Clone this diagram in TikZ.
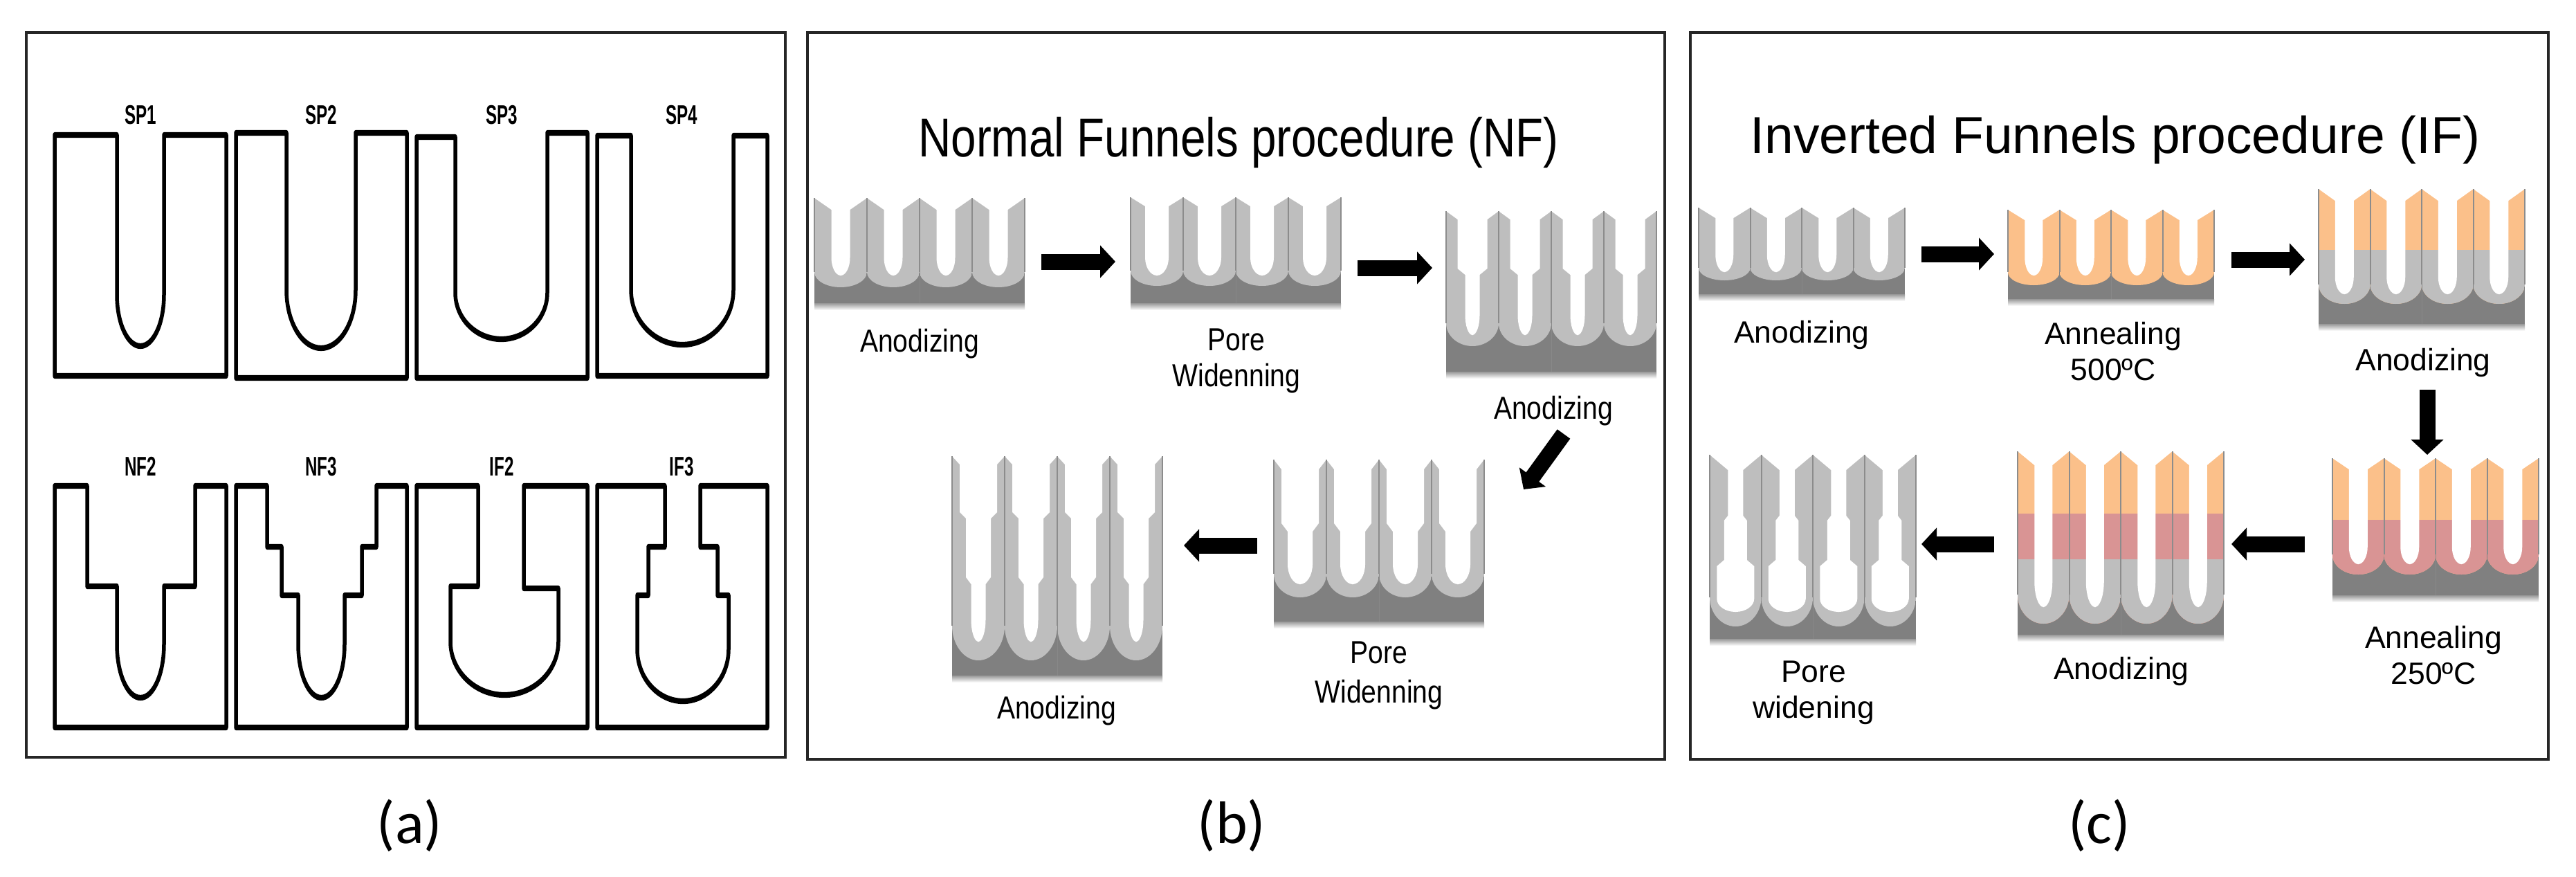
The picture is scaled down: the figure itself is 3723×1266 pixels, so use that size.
\documentclass[tikz,border=0pt]{standalone}
\usepackage{fontspec}
\setmainfont{Liberation Sans}
\newfontfamily\celltagfont[FakeStretch=.62]{Liberation Sans}
\newfontfamily\nftitlefont[FakeStretch=.83]{Liberation Sans}
\newfontfamily\nfstepfont[FakeStretch=.85]{Liberation Sans}
\newfontfamily\captionfont{Carlito}
\usetikzlibrary{%
        arrows.meta%
    }
\definecolor{wallgray}{HTML}{BEBEBE}
\definecolor{barriergray}{HTML}{808080}
\definecolor{seamgray}{HTML}{8C8C8C}
\definecolor{annealorange}{HTML}{FBC08A}
\definecolor{annealpink}{HTML}{D99494}
\tikzset{%
    panelbox/.style={draw=black!85,line width=4pt},
    cutline/.style={draw=black,line width=5.5pt,line join=round},
    blockarrow/.style={black,line width=23pt,-{Triangle[length=22pt,width=46pt]}},
    celltag/.style={font=\celltagfont\bfseries\fontsize{39pt}{39pt}\selectfont,anchor=base,inner sep=0pt},
    nftitle/.style={font=\nftitlefont\fontsize{79pt}{79pt}\selectfont,anchor=base,inner sep=0pt},
    iftitle/.style={font=\fontsize{75pt}{75pt}\selectfont,anchor=base,inner sep=0pt},
    nfstep/.style={font=\nfstepfont\fontsize{46pt}{52pt}\selectfont,align=center,inner sep=0pt},
    ifstep/.style={font=\fontsize{44.5pt}{52pt}\selectfont,align=center,inner sep=0pt},
    panelcap/.style={font=\captionfont\fontsize{87pt}{87pt}\selectfont,anchor=base,inner sep=0pt}
}
% pore bottom of a section: from x #1 to x #2, curve starts at y #4, tip at y #3
\newcommand{\poretip}[4]{%
  .. controls (#1,{#4+.55*(#3-#4)}) and ({(#1+#2)/2+.55*(#1-#2)/2},#3) .. ({(#1+#2)/2},#3)
  .. controls ({(#1+#2)/2-.55*(#1-#2)/2},#3) and (#2,{#4+.55*(#3-#4)}) .. (#2,#4)}
% alumina layer: x, tip y, wall bottom y, base y, bands colour/y, pore half width/y, pore bottom y
\newcommand{\alwell}[7]{%
  \pgfmathsetmacro{\cusp}{#3-.17*(#3-#2)}
  \fill[barriergray] (#1,\cusp) rectangle (#1+4*\cellw,#4);
  \shade[top color=black!40,bottom color=white] (#1,#4) rectangle (#1+4*\cellw,#4+10);
  \foreach \h/\y in {#6}{\xdef\lasth{\h}\xdef\lasty{\y}}
  \foreach \i in {0,...,3}{
    \pgfmathsetmacro{\xa}{#1+\i*\cellw}
    \pgfmathsetmacro{\xc}{\xa+\cellw/2}
    \pgfmathsetmacro{\xb}{\xa+\cellw}
    \begin{scope}
      \clip (\xa,#2) -- (\xa,\cusp) .. controls (\xa,{\cusp+.55*(#3-\cusp)}) and ({\xc-.55*\cellw/2},#3) .. (\xc,#3)
        .. controls ({\xc+.55*\cellw/2},#3) and (\xb,{\cusp+.55*(#3-\cusp)}) .. (\xb,\cusp) -- (\xb,#2) -- cycle;
      \foreach \col/\ys in {#5}
        \fill[\col] (\xa,\ys) rectangle (\xb,#3+1);
    \end{scope}
    \foreach \s in {-1,1}
      \fill[white] (\xc-\s,#2) -- ({\xc+\s*\cellw/2},#2)
        foreach \h/\y in {#6}{ -- ({\xc+\s*\h},\y)}
        .. controls ({\xc+\s*\lasth},{\lasty+.55*(#7-\lasty)}) and ({\xc+\s*\lasth*.55},#7) .. (\xc,#7)
        -- (\xc-\s,#7) -- cycle;
  }
  \foreach \i in {0,...,4}
    \draw[seamgray,line width=2pt] (#1+\i*\cellw,#2) -- (#1+\i*\cellw,\cusp);
  \draw[seamgray!70!barriergray,line width=1pt] (#1+2*\cellw,\cusp) -- (#1+2*\cellw,#4);
}

\begin{document}
\begin{tikzpicture}[x=1pt,y=-1pt]
  \fill[white,use as bounding box] (0,0) rectangle (3723,1266);

  \draw[panelbox] (38,47) rectangle (1135,1094);% panel a
  \draw[panelbox] (1167,47) rectangle (2406,1097);% panel b
  \draw[panelbox] (2443,47) rectangle (3683,1097);% panel c

  %sections
  \begin{scope}[transform canvas={yscale=1.5},y=-0.66667pt]
    \draw[cutline] (169,195) -- (79,195) -- (79,543) -- (327,543) -- (327,195) -- (237,195)
      -- (237,426) \poretip{237}{169}{500}{426} -- cycle;% SP1
    \draw[cutline] (414,192) -- (341,192) -- (341,546) -- (588,546) -- (588,192) -- (514,192)
      -- (514,419) \poretip{514}{414}{503}{419} -- cycle;% SP2
    \draw[cutline] (658,198) -- (602,198) -- (602,546) -- (849,546) -- (849,192) -- (791,192)
      -- (791,423) \poretip{791}{658}{490}{423} -- cycle;% SP3
    \draw[cutline] (912,196) -- (863,196) -- (863,543) -- (1109,543) -- (1109,196) -- (1060,196)
      -- (1060,419) \poretip{1060}{912}{498}{419} -- cycle;% SP4
    \draw[cutline] (126,702) -- (79,702) -- (79,1051) -- (327,1051) -- (327,702) -- (282,702)
      -- (282,847) -- (237,847) -- (237,931) \poretip{237}{169}{1008}{931}
      -- (169,847) -- (126,847) -- cycle;% NF2
    \draw[cutline] (386,702) -- (341,702) -- (341,1051) -- (588,1051) -- (588,702) -- (544,702)
      -- (544,790) -- (523,790) -- (523,860) -- (498,860) -- (498,931) \poretip{498}{431}{1008}{931}
      -- (431,860) -- (407,860) -- (407,790) -- (386,790) -- cycle;% NF3
    \draw[cutline] (691,702) -- (602,702) -- (602,1051) -- (849,1051) -- (849,702) -- (757,702)
      -- (757,850) -- (807,850) -- (807,927) \poretip{807}{651}{1004}{927}
      -- (651,847) -- (691,847) -- cycle;% IF2
    \draw[cutline] (961,702) -- (863,702) -- (863,1051) -- (1109,1051) -- (1109,702) -- (1012,702)
      -- (1012,790) -- (1037,790) -- (1037,860) -- (1053,860) -- (1053,938) \poretip{1053}{921}{1013}{938}
      -- (921,860) -- (937,860) -- (937,790) -- (961,790) -- cycle;% IF3
  \end{scope}

  %section labels
  \node[celltag] (sp1) at (203,179) {SP1};
  \node[celltag] (sp2) at (464,179) {SP2};
  \node[celltag] (sp3) at (725,179) {SP3};
  \node[celltag] (sp4) at (985,179) {SP4};
  \node[celltag] (nf2) at (203,687) {NF2};
  \node[celltag] (nf3) at (464,687) {NF3};
  \node[celltag] (if2) at (725,687) {IF2};
  \node[celltag] (if3) at (985,687) {IF3};

  %normal funnels
  \node[nftitle] (nftitle) at (1790,226) {Normal Funnels procedure (NF)};
  \def\cellw{76}
  \alwell{1177}{286}{415}{438}{wallgray/286}{13.5/303,13.5/372}{398}
  \alwell{1634}{285}{413}{438}{wallgray/285}{17/298,17/372}{398}
  \alwell{2090}{305}{500}{537}{wallgray/305}{21.5/317,21.5/388,10.5/397,10.5/455}{484}
  \alwell{1841}{664}{863}{898}{wallgray/664}{27/678,27/756,18/768,18/815}{844}
  \alwell{1376}{659}{954}{976}{wallgray/659}{27/671,27/740,18/749,18/834,10.5/844,10.5/895}{927}

  \coordinate (nfa) at (1505,378);
  \coordinate (nfb) at (1612,378);
  \coordinate (nfc) at (1962,387);
  \coordinate (nfd) at (2070,387);
  \coordinate (nfe) at (2260,627);
  \coordinate (nff) at (2202,707);
  \coordinate (nfg) at (1817,788);
  \coordinate (nfh) at (1711,788);
  \draw[blockarrow] (nfa) -- (nfb);
  \draw[blockarrow] (nfc) -- (nfd);
  \draw[blockarrow] (nfe) -- (nff);
  \draw[blockarrow] (nfg) -- (nfh);

  \node[nfstep,anchor=base] (nfan1) at (1329,508) {Anodizing};
  \node[nfstep,anchor=north] (nfpw1) at (1787,475) {Pore\\Widenning};
  \node[nfstep,anchor=base] (nfan2) at (2245,605) {Anodizing};
  \node[nfstep,anchor=north] (nfpw2) at (1993,927) {Pore\\[5pt]Widenning};
  \node[nfstep,anchor=base] (nfan3) at (1527,1038) {Anodizing};

  %inverted funnels
  \node[iftitle] (iftitle) at (3057,221) {Inverted Funnels procedure (IF)};
  \def\cellw{74.5}
  \alwell{2455}{300}{405}{425}{wallgray/300}{13/315,13/368}{393}
  \alwell{2902}{303}{412}{432}{annealorange/303}{13/318,13/372}{398}
  \alwell{3351}{273}{439}{468}{annealorange/273,wallgray/361}{13.5/290,13.5/400}{425}
  \alwell{3371}{662}{830}{860}{annealorange/662,annealpink/751}{13.5/678,13.5/790}{815}
  \alwell{2916}{652}{901}{917}{annealorange/652,annealpink/742,wallgray/808}{13/672,13/840}{877}
  \alwell{2471}{657}{905}{923}{wallgray/657}{11/679,11/745,16.5/752,16.5/809,27/818,27/865}{884}

  \coordinate (ifa) at (2777,367);
  \coordinate (ifb) at (2882,367);
  \coordinate (ifc) at (3225,375);
  \coordinate (ifd) at (3331,375);
  \coordinate (ife) at (3508,563);
  \coordinate (iff) at (3508,657);
  \coordinate (ifg) at (3331,786);
  \coordinate (ifh) at (3225,786);
  \coordinate (ifi) at (2882,786);
  \coordinate (ifj) at (2777,786);
  \draw[blockarrow] (ifa) -- (ifb);
  \draw[blockarrow] (ifc) -- (ifd);
  \draw[blockarrow] (ife) -- (iff);
  \draw[blockarrow] (ifg) -- (ifh);
  \draw[blockarrow] (ifi) -- (ifj);

  \node[ifstep,anchor=base] (ifan1) at (2604,495) {Anodizing};
  \node[ifstep,anchor=north] (ifat1) at (3054,465) {Annealing\\500ºC};
  \node[ifstep,anchor=base] (ifan2) at (3502,535) {Anodizing};
  \node[ifstep,anchor=north] (ifat2) at (3517,904) {Annealing\\250ºC};
  \node[ifstep,anchor=base] (ifan3) at (3066,981) {Anodizing};
  \node[ifstep,anchor=north] (ifpw) at (2621,955) {Pore\\widening};

  %panel captions
  \node[panelcap] (capa) at (592,1218) {(a)};
  \node[panelcap] (capb) at (1780,1218) {(b)};
  \node[panelcap] (capc) at (3034,1218) {(c)};
\end{tikzpicture}
\end{document}
